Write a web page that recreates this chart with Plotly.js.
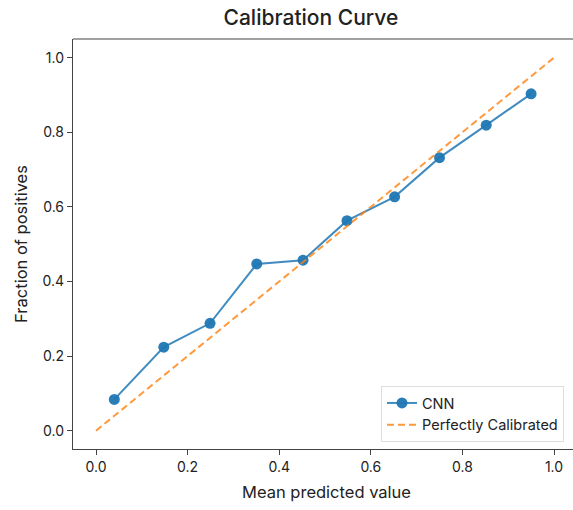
<!DOCTYPE html>
<html>
<head>
<meta charset="utf-8">
<script src="https://cdn.plot.ly/plotly-3.0.1.min.js"></script>
<style>html,body{margin:0;padding:0;background:#fff;overflow:hidden;}#wrap{width:573px;height:510px;overflow:hidden;}#chart{width:580px;height:510px;}</style>
</head>
<body>
<div id="wrap"><div id="chart"></div></div>
<script>
const meanPredicted = [0.040, 0.148, 0.249, 0.351, 0.452, 0.548, 0.652, 0.750, 0.852, 0.950];
const fractionPositives = [0.084, 0.224, 0.288, 0.447, 0.457, 0.563, 0.627, 0.732, 0.819, 0.903];
const perfectX = [0, 1];
const perfectY = [0, 1];
const tickVals = [0, 0.2, 0.4, 0.6, 0.8, 1.0];
const tickText = ["0.0", "0.2", "0.4", "0.6", "0.8", "1.0"];

const FONT = "Inter, 'Open Sans', sans-serif";

const traces = [
  {
    x: meanPredicted, y: fractionPositives, name: "CNN",
    type: "scatter", mode: "lines+markers",
    line: {color: "rgba(31,119,180,0.85)", width: 2},
    marker: {color: "rgba(31,119,180,0.95)", size: 11}
  },
  {
    x: perfectX, y: perfectY, name: "Perfectly Calibrated",
    type: "scatter", mode: "lines",
    line: {color: "rgba(255,127,14,0.8)", width: 2, dash: "7px,4px"}
  }
];

const axisCommon = {
  showgrid: false, zeroline: false, showline: true, mirror: false,
  linecolor: "#444", linewidth: 1.2,
  ticks: "outside", ticklen: 5, tickwidth: 1, tickcolor: "#444",
  tickvals: tickVals, ticktext: tickText,
  tickfont: {family: FONT, size: 14, color: "#222"}
};

// plot area: x from 73 to 580 px (right edge beyond visible window, as in the cropped reference)
const plotW = 580 - 73;
const pxPerUnit = 458;
const xMin = -23 / pxPerUnit;
const xMax = xMin + plotW / pxPerUnit;

const layout = {
  width: 580, height: 510,
  margin: {l: 73, r: 0, t: 39, b: 61},
  paper_bgcolor: "#fff", plot_bgcolor: "#fff",
  font: {family: FONT, color: "#222"},
  title: {text: "Calibration Curve", font: {family: FONT, size: 21, color: "#222", weight: 500}, x: 0.536, xanchor: "center", y: 0.965, yanchor: "middle"},
  xaxis: Object.assign({}, axisCommon, {
    range: [xMin, xMax],
    title: {text: "Mean predicted value", font: {family: FONT, size: 16.5, color: "#222"}, standoff: 12}
  }),
  yaxis: Object.assign({}, axisCommon, {
    range: [-0.049, 1.050],
    title: {text: "Fraction of positives", font: {family: FONT, size: 16.5, color: "#222"}, standoff: 10}
  }),
  shapes: [
    {type: "line", xref: "paper", yref: "paper", x0: 0, x1: 1, y0: 1, y1: 1, line: {color: "#444", width: 1.2}}
  ],
  showlegend: true,
  legend: {
    x: (381 - 73) / plotW, y: 0.017, xanchor: "left", yanchor: "bottom",
    bgcolor: "rgba(255,255,255,0.9)", bordercolor: "#ddd", borderwidth: 1,
    font: {family: FONT, size: 14.5, color: "#222"}
  }
};

Plotly.newPlot("chart", traces, layout, {displayModeBar: false, staticPlot: true});
</script>
</body>
</html>
